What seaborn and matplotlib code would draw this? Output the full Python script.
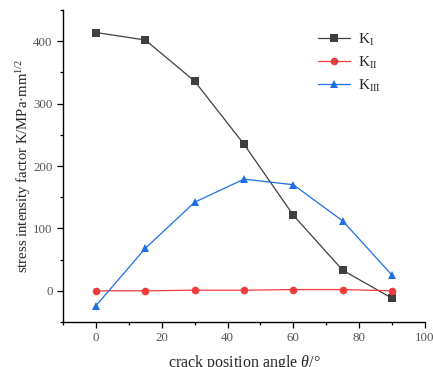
import matplotlib
matplotlib.use("Agg")
import matplotlib.pyplot as plt
import seaborn as sns
import pandas as pd
from matplotlib.ticker import MultipleLocator

# crack position angle (degrees)
angles = [0, 15, 30, 45, 60, 75, 90]
# stress intensity factors for the three modes
k1 = [414, 402, 336, 235, 121, 33, -12]
k2 = [0, 0, 1, 1, 2, 2, 0]
k3 = [-24, 68, 142, 179, 170, 112, 25]

series_names = ["$\\mathrm{K}_{\\mathrm{I}}$", "$\\mathrm{K}_{\\mathrm{II}}$", "$\\mathrm{K}_{\\mathrm{III}}$"]
colors = ["#3f3f3f", "#f03c3c", "#1e6fe6"]
markers = ["s", "o", "^"]

df = pd.DataFrame({
    "angle": angles * 3,
    "K": k1 + k2 + k3,
    "series": [series_names[0]] * len(angles) + [series_names[1]] * len(angles) + [series_names[2]] * len(angles),
})

sns.set_style("ticks")
plt.rcParams["font.family"] = ["Liberation Serif", "DejaVu Serif"]
plt.rcParams["mathtext.fontset"] = "custom"
plt.rcParams["mathtext.rm"] = "Liberation Serif"
plt.rcParams["mathtext.it"] = "Liberation Serif:italic"

fig = plt.figure(figsize=(4.33, 3.67), dpi=100)
ax = fig.add_axes([0.1455, 0.1226, 0.836, 0.850])

sns.lineplot(data=df, x="angle", y="K", hue="series", style="series",
             palette=colors, markers=markers, dashes=False, linewidth=0.9,
             markersize=5.5, markeredgewidth=0, ax=ax)

ax.set_xlim(-10, 100)
ax.set_ylim(-50, 450)
ax.xaxis.set_major_locator(MultipleLocator(20))
ax.xaxis.set_minor_locator(MultipleLocator(10))
ax.yaxis.set_major_locator(MultipleLocator(100))
ax.yaxis.set_minor_locator(MultipleLocator(50))
ax.tick_params(which="major", direction="out", length=4, width=0.9, labelsize=9.3,
               labelcolor="#555555", color="black")
ax.tick_params(which="minor", direction="out", length=2.5, width=0.9, color="black")

for side in ("top", "right"):
    ax.spines[side].set_visible(False)
for side in ("left", "bottom"):
    ax.spines[side].set_linewidth(1.0)
    ax.spines[side].set_color("black")

ax.set_xlabel("crack position angle $\\mathit{\\theta}$/°", fontsize=11.5, labelpad=6)
ax.set_ylabel("stress intensity factor K/MPa·mm$^{1/2}$", fontsize=10.6, labelpad=0)

leg = ax.legend(frameon=False, loc="upper left", bbox_to_anchor=(0.667, 0.975),
                fontsize=11, handlelength=2.1, labelspacing=0.45, handletextpad=0.5)

fig.savefig("out.png", dpi=100)
